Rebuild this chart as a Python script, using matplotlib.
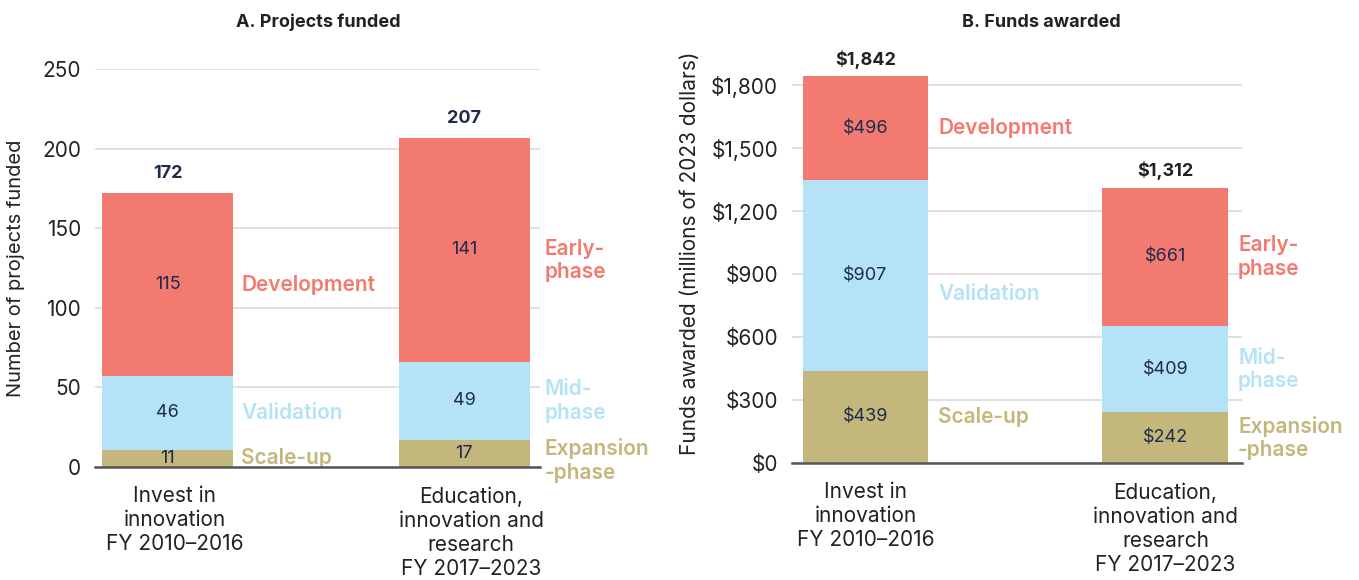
import numpy as np
import matplotlib.pyplot as plt
import matplotlib.transforms as mtransforms
from matplotlib.ticker import FuncFormatter

plt.rcParams['font.family'] = ['Inter', 'DejaVu Sans']

# ------------------------------------------------------------
# Datos
# ------------------------------------------------------------
programs = ["Invest in\ninnovation\nFY 2010\u20132016",
            "Education,\ninnovation and\nresearch\nFY 2017\u20132023"]

# Panel A: proyectos financiados (de abajo hacia arriba)
projects_bottom = [11, 17]
projects_middle = [46, 49]
projects_top = [115, 141]
projects_total = [172, 207]

# Panel B: fondos (millones de dólares de 2023)
funds_bottom = [439, 242]
funds_middle = [907, 409]
funds_top = [496, 661]
funds_total = [1842, 1312]

# Nombres de las fases para cada programa
phase_top = ["Development", "Early-\nphase"]
phase_middle = ["Validation", "Mid-\nphase"]
phase_bottom = ["Scale-up", "Expansion\n-phase"]

c_top = "#f27a70"
c_mid = "#b4e3f7"
c_bot = "#c3b77c"
navy = "#1f2b4d"

fig = plt.figure(figsize=(13.59, 5.80), dpi=100)
axA = fig.add_axes([0.0699, 0.1948, 0.3275, 0.686])
axB = fig.add_axes([0.5828, 0.2017, 0.331, 0.724])


def panel(ax, bottom, middle, top, total, width, ylim, yticks, fmt, total_color,
          gaps, nudges, xshift, total_off):
    x = np.arange(len(programs))
    b = np.array(bottom)
    m = np.array(middle)
    t = np.array(top)
    ax.bar(x, b, width, color=c_bot, zorder=2)
    ax.bar(x, m, width, bottom=b, color=c_mid, zorder=2)
    ax.bar(x, t, width, bottom=b + m, color=c_top, zorder=2)

    for i in range(len(x)):
        segs = [(b[i], 0, phase_bottom[i], c_bot),
                (m[i], b[i], phase_middle[i], c_mid),
                (t[i], b[i] + m[i], phase_top[i], c_top)]
        for k, (val, base, name, col) in enumerate(segs):
            yc = base + val / 2
            ax.text(x[i], yc, fmt(val), ha="center", va="center",
                    fontsize=13, color=navy)
            ax.annotate(name, (x[i] + width / 2, yc),
                        xytext=(gaps[i], nudges[i][k]),
                        textcoords="offset points", ha="left", va="center",
                        fontsize=15, fontweight="semibold", color=col,
                        linespacing=1.2, annotation_clip=False)
        ax.annotate(fmt(total[i]), (x[i], total[i]), xytext=(0, total_off),
                    textcoords="offset points", ha="center", va="center",
                    fontsize=13, fontweight="bold", color=total_color,
                    annotation_clip=False)

    ax.set_xlim(-0.245, 1.255)
    ax.set_ylim(*ylim)
    ax.set_yticks(yticks)
    ax.yaxis.set_major_formatter(FuncFormatter(lambda v, p: fmt(v)))
    ax.set_xticks(x)
    ax.set_xticklabels(programs, fontsize=15, linespacing=1.25)
    ax.tick_params(axis="both", length=0, labelsize=15, colors="#222222")
    ax.tick_params(axis="x", pad=14)
    ax.tick_params(axis="y", pad=10)
    shift = mtransforms.ScaledTranslation(xshift / 72, 0, fig.dpi_scale_trans)
    for lab in ax.get_xticklabels():
        lab.set_transform(lab.get_transform() + shift)
    ax.grid(axis="y", color="#dddddd", linewidth=1.3, zorder=0)
    for s in ["top", "right", "left"]:
        ax.spines[s].set_visible(False)
    ax.spines["bottom"].set_color("#555555")
    ax.spines["bottom"].set_linewidth(1.8)
    ax.spines["bottom"].set_zorder(3)


panel(axA, projects_bottom, projects_middle, projects_top, projects_total,
      0.44, (0, 250), [0, 50, 100, 150, 200, 250], lambda v: f"{v:.0f}",
      navy, [6, 11], [[0, 0, 0], [-5, 0, -8]], 5, 14)
axA.set_ylabel("Number of projects funded", fontsize=14.5, color="#222222",
               labelpad=12)

panel(axB, funds_bottom, funds_middle, funds_top, funds_total,
      0.42, (0, 2000), [0, 300, 600, 900, 1200, 1500, 1800],
      lambda v: f"${v:,.0f}", "#222222", [7, 7], [[0, -13, 0], [0, 0, 0]], 0,
      12)
axB.set_ylabel("Funds awarded (millions of 2023 dollars)", fontsize=15,
               color="#222222", labelpad=8)

fig.text(0.234, 0.962, "A. Projects funded", ha="center", va="center",
         fontsize=13, fontweight="bold", color="#222222")
fig.text(0.766, 0.962, "B. Funds awarded", ha="center", va="center",
         fontsize=13, fontweight="bold", color="#222222")

fig.savefig("out.png", dpi=100)
